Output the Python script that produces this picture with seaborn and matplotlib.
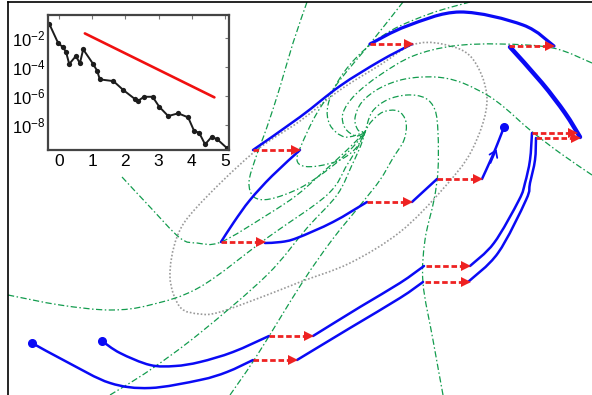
import numpy as np
import matplotlib
matplotlib.use("Agg")
import matplotlib.pyplot as plt
from matplotlib.path import Path
from matplotlib.patches import PathPatch
import seaborn as sns
import pandas as pd

sns.set_style("white")
plt.rcParams["font.family"] = ["Liberation Sans", "DejaVu Sans"]

BLUE = "#0a0af5"
RED = "#ee2222"
GREEN = "#139c4e"
GRAY = "#9a9a9a"

# ---- inset: residual decay (log10 of the error) ----
inset_t = [-0.29, -0.02, 0.11, 0.21, 0.31, 0.51, 0.63, 0.73, 1.03, 1.15, 1.23,
           1.64, 1.94, 2.29, 2.39, 2.56, 2.82, 3.02, 3.29, 3.59, 3.89, 4.07,
           4.22, 4.40, 4.60, 4.77, 5.05]
inset_log_err = [-1.03, -2.37, -2.60, -2.94, -3.79, -3.24, -3.74, -2.78, -3.79,
                 -4.26, -4.85, -4.97, -5.59, -6.21, -6.32, -6.05, -6.05, -6.74,
                 -7.38, -7.19, -7.47, -8.41, -8.53, -9.33, -8.81, -8.99, -9.57]
rate_t = [0.78, 4.68]
rate_log_err = [-1.68, -6.09]
inset_yticks_exp = [-2, -4, -6, -8]
inset_xticks = [0, 1, 2, 3, 4, 5]

# ---- main panel: phase-plane sketch (pixel-like coordinates, y downward) ----
# flow lines spiralling into the focus
flow_lines = {
    "top_left": [(307, 2), (293, 43), (280, 87), (267, 127), (256, 157), (249, 182),
                 (254, 197), (270, 199), (300, 188), (330, 168), (352, 148), (365, 132)],
    "top_mid": [(403, 2), (373, 40), (340, 80), (317, 113), (301, 146), (297, 160),
                (303, 166), (318, 166), (340, 160), (356, 148), (365, 132)],
    "top_right": [(470, 2), (432, 13), (392, 30), (362, 52), (340, 78), (328, 105),
                  (330, 125), (345, 137), (365, 132)],
    "right_upper": [(592, 63), (553, 48), (500, 44), (453, 46), (413, 56), (380, 75),
                    (355, 95), (343, 113), (345, 128), (356, 136), (365, 132)],
    "right_lower": [(592, 175), (560, 153), (530, 130), (505, 108), (487, 95),
                    (460, 82), (435, 77), (405, 79), (380, 88), (362, 102),
                    (355, 118), (358, 130), (365, 132)],
    "bottom_right": [(443, 395), (433, 340), (423, 283), (425, 240), (434, 200),
                     (438, 170), (438, 133), (435, 110), (425, 98), (407, 95),
                     (387, 100), (372, 112), (365, 132)],
    "bottom_mid": [(230, 395), (256, 357), (302, 283), (332, 240), (362, 203),
                   (380, 180), (393, 158), (404, 140), (406, 122), (398, 111),
                   (383, 112), (371, 122), (365, 132)],
    "bottom_left": [(110, 395), (150, 370), (200, 333), (267, 275), (307, 228),
                    (337, 195), (352, 165), (361, 145), (365, 132)],
    "left": [(8, 295), (60, 305), (110, 310), (150, 305), (200, 287), (267, 238),
             (327, 195), (347, 165), (359, 145), (365, 132)],
    "upper_left": [(122, 177), (150, 207), (180, 238), (197, 243), (221, 242),
                   (267, 215), (297, 195), (322, 173), (347, 150), (365, 132)],
}

# boundary of the attracting region
region_loop = [(412, 45), (442, 44), (472, 58), (487, 100), (472, 150), (442, 190),
               (400, 232), (350, 263), (300, 282), (267, 295), (220, 312), (200, 314),
               (180, 307), (170, 277), (177, 237), (197, 207), (253, 153), (300, 121),
               (340, 90), (380, 65)]

# continuous pieces of the trajectories
trajectories = [
    ([(253, 150), (300, 117), (340, 86), (380, 61), (412, 44)], 1.8),
    ([(300, 150), (272, 176), (250, 200), (234, 222), (221, 242)], 1.8),
    ([(265, 243), (281, 242), (297, 238), (333, 222), (367, 202)], 1.8),
    ([(412, 202), (437, 179)], 1.8),
    ([(482, 179), (492, 157), (499, 140), (504, 127)], 1.8),
    ([(370, 44), (407, 26), (460, 12), (523, 25), (554, 46)], 2.3),
    ([(510, 47), (542, 83), (565, 113), (580, 137)], 3.2),
    ([(532, 133), (530, 160), (525, 183), (519, 200), (494, 243), (470, 266)], 1.8),
    ([(536, 138), (535, 160), (530, 183), (526, 200), (498, 253), (468, 282)], 1.8),
    ([(313, 336), (360, 307), (400, 283), (424, 266)], 1.8),
    ([(297, 360), (350, 328), (400, 298), (423, 282)], 1.8),
    ([(102, 341), (120, 353), (150, 365), (175, 366), (200, 362), (233, 352), (269, 336)], 1.8),
    ([(32, 343), (67, 362), (110, 383), (150, 388), (200, 380), (227, 372), (253, 360)], 1.8),
]
start_points_x = [32, 102, 504]
start_points_y = [343, 341, 127]

# impulsive jumps: tail position and horizontal length
jump_x = [253, 221, 367, 437, 370, 509, 532, 536, 426, 425, 269, 253]
jump_y = [150, 242, 202, 179, 44, 46, 133, 138, 266, 282, 336, 360]
jump_dx = [47, 44, 45, 45, 43, 45, 45, 44, 44, 45, 44, 44]


def smooth_path(pts, closed=False):
    p = np.asarray(pts, float)
    n = len(p)
    verts = [p[0]]
    codes = [Path.MOVETO]
    segs = n if closed else n - 1
    for i in range(segs):
        p0 = p[(i - 1) % n] if (closed or i > 0) else p[i]
        p1 = p[i % n]
        p2 = p[(i + 1) % n]
        p3 = p[(i + 2) % n] if (closed or i + 2 < n) else p[(i + 1) % n]
        c1 = p1 + (p2 - p0) / 6.0
        c2 = p2 - (p3 - p1) / 6.0
        verts += [c1, c2, p2]
        codes += [Path.CURVE4] * 3
    return Path(verts, codes)


fig = plt.figure(figsize=(5.92, 3.95), dpi=100)
ax = fig.add_axes([8 / 592, 0, 584 / 592, 393 / 395])
ax.set_xlim(8, 592)
ax.set_ylim(395, 2)
ax.set_xticks([])
ax.set_yticks([])
for side in ["right", "bottom"]:
    ax.spines[side].set_visible(False)
for side in ["left", "top"]:
    ax.spines[side].set_color("black")
    ax.spines[side].set_linewidth(1.2)

ax.add_patch(PathPatch(smooth_path(region_loop, closed=True), fill=False,
                       edgecolor=GRAY, lw=1.2, linestyle=(0, (1, 1.2)), zorder=1))

for pts in flow_lines.values():
    ax.add_patch(PathPatch(smooth_path(pts), fill=False, edgecolor=GREEN, lw=0.9,
                           linestyle=(0, (5, 2, 1.2, 2)), zorder=2))

for pts, w in trajectories:
    ax.add_patch(PathPatch(smooth_path(pts), fill=False, edgecolor=BLUE, lw=w,
                           capstyle="round", zorder=3))

ax.plot(start_points_x, start_points_y, "o", ms=5.5, color=BLUE, zorder=4)
ax.annotate("", xy=(496.5, 149), xytext=(490.5, 163),
            arrowprops=dict(arrowstyle="->,head_length=0.45,head_width=0.3",
                            color=BLUE, lw=1.3, shrinkA=0, shrinkB=0), zorder=4)

for x0, y0, dx in zip(jump_x, jump_y, jump_dx):
    ax.plot([x0, x0 + dx - 6], [y0, y0], color=RED, lw=2.0, dashes=(2.0, 1.0),
            dash_capstyle="butt", zorder=5)
    ax.plot([x0 + dx - 4.5], [y0], marker=">", ms=6.8, color=RED,
            markeredgewidth=0, zorder=5)

# ---- inset axes ----
ax_in = fig.add_axes([48 / 592, 1 - 150 / 395, 181 / 592, 135 / 395], zorder=10)
ax_in.set_facecolor("white")
df = pd.DataFrame({"t": inset_t, "err": 10.0 ** np.array(inset_log_err)})
sns.lineplot(data=df, x="t", y="err", ax=ax_in, sort=False, color="#1c1c1c",
             lw=1.4, marker="o", markersize=3.8, markeredgewidth=0)
ax_in.plot(rate_t, 10.0 ** np.array(rate_log_err), color="#f01010", lw=1.9)
ax_in.set_yscale("log")
ax_in.set_xlim(-0.33, 5.12)
ax_in.set_ylim(10 ** -9.72, 10 ** -0.41)
ax_in.set_xticks(inset_xticks)
ax_in.set_xticklabels([str(v) for v in inset_xticks])
ax_in.set_yticks([10.0 ** e for e in inset_yticks_exp])
ax_in.set_yticklabels([r"$\mathdefault{10^{%d}}$" % e for e in inset_yticks_exp])
ax_in.yaxis.set_minor_locator(matplotlib.ticker.NullLocator())
ax_in.set_xlabel("")
ax_in.set_ylabel("")
ax_in.tick_params(axis="both", direction="in", length=3, width=0.8, color="#777777",
                  top=True, right=True, labelcolor="black")
ax_in.tick_params(axis="x", pad=3, labelsize=12.5)
ax_in.tick_params(axis="y", pad=2, labelsize=12)
for s in ax_in.spines.values():
    s.set_visible(True)
    s.set_color("#444444")
    s.set_linewidth(1.6)

fig.savefig("out.png", dpi=100)
